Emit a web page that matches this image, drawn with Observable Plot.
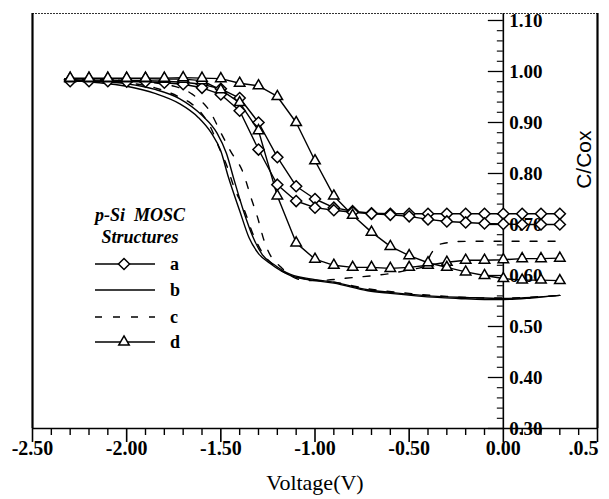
<!DOCTYPE html>
<html><head><meta charset="utf-8">
<script src="https://cdn.jsdelivr.net/npm/d3@7"></script>
<script src="https://cdn.jsdelivr.net/npm/@observablehq/plot@0.6"></script>
<style>
html,body{margin:0;padding:0;background:#fff;}
#wrap{position:relative;width:609px;height:499px;overflow:hidden;}
</style></head><body><div id="wrap"></div>
<script>
// ---- data (Voltage in V, C/Cox) ----
const markerV = [-2.3,-2.2,-2.1,-2.0,-1.9,-1.8,-1.7,-1.6,-1.5,-1.4,-1.3,-1.2,-1.1,-1.0,-0.9,-0.8,-0.7,-0.6,-0.5,-0.4,-0.3,-0.2,-0.1,0.0,0.1,0.2,0.3];
const a1 = [.983,.983,.983,.982,.982,.981,.979,.975,.966,.948,.900,.832,.775,.750,.733,.726,.722,.721,.721,.721,.721,.721,.721,.721,.721,.721,.721];
const a2 = [.981,.981,.981,.980,.980,.978,.975,.968,.955,.923,.847,.778,.746,.733,.728,.724,.721,.719,.716,.710,.706,.704,.702,.701,.700,.700,.700];
const d1 = [.986,.986,.986,.986,.986,.985,.985,.982,.964,.939,.884,.756,.664,.632,.620,.616,.616,.614,.616,.620,.626,.630,.630,.631,.633,.633,.634];
const d2 = [.987,.987,.987,.987,.987,.987,.988,.987,.986,.977,.972,.951,.900,.825,.756,.718,.685,.657,.639,.625,.616,.607,.600,.594,.591,.591,.590];

const b1V = [-2.33,-2.2,-2.0,-1.85,-1.72,-1.62,-1.55,-1.5,-1.46,-1.4,-1.35,-1.3,-1.24,-1.13,-1.0,-0.9,-0.72,-0.6,-0.35,-0.24,-0.1,0.0,0.15,0.3];
const b1C = [.985,.980,.971,.957,.937,.910,.879,.844,.793,.727,.674,.643,.624,.600,.590,.585,.570,.565,.557,.555,.553,.553,.556,.561];
const b2V = [-2.33,-2.2,-2.0,-1.85,-1.72,-1.6,-1.52,-1.47,-1.43,-1.38,-1.33,-1.28,-1.22,-1.13,-1.0,-0.9,-0.72,-0.6,-0.35,-0.2,0.0,0.15,0.3];
const b2C = [.985,.982,.976,.965,.947,.914,.879,.839,.788,.727,.676,.641,.622,.602,.592,.587,.572,.567,.559,.557,.555,.557,.561];
const c1V = [-2.33,-2.0,-1.85,-1.72,-1.66,-1.6,-1.555,-1.51,-1.465,-1.43,-1.38,-1.33,-1.28,-1.22,-1.13,-1.0,-0.9,-0.72,-0.5,-0.3,-0.1,0.0,0.3];
const c1C = [.985,.978,.968,.950,.938,.917,.891,.851,.812,.773,.733,.682,.645,.620,.601,.591,.587,.574,.565,.559,.556,.556,.561];
const c2V = [-2.33,-2.0,-1.8,-1.65,-1.555,-1.5,-1.45,-1.38,-1.34,-1.305,-1.27,-1.25,-1.18,-1.08,-1.0,-0.8,-0.6,-0.5,-0.42,-0.38,-0.33,-0.2,0.0,0.3];
const c2C = [.985,.982,.975,.955,.920,.880,.845,.800,.753,.714,.668,.649,.616,.592,.590,.596,.604,.611,.618,.645,.662,.667,.667,.667];

const xTicks = [-2.5,-2.0,-1.5,-1.0,-0.5,0.0,0.5];
const xTickLabels = ["-2.50","-2.00","-1.50","-1.00","-0.50","0.00",".0.5"];
const xMinor = d3.range(-25, 6).map(k => k / 10).filter(v => !xTicks.some(t => Math.abs(t - v) < 1e-9));
const yTicks = [0.3,0.4,0.5,0.6,0.7,0.8,0.9,1.0,1.1];
const yTickLabels = ["0.30","0.40","0.50","0.60","0.70","0.80","0.90","1.00","1.10"];
const yMinor = d3.range(15, 56).map(k => k / 50).filter(v => !yTicks.some(t => Math.abs(t - v) < 1e-9));
const legendKeys = ["a","b","c","d"];
const legendTitle = ["p-Si  MOSC", "Structures"];
const xLabel = "Voltage(V)";
const yLabel = "C/Cox";

// ---- tables ----
function rowsOf(series, xs, ys) { return xs.map((v, i) => ({series, v, c: ys[i]})); }
const diamonds = [...rowsOf("a1", markerV, a1), ...rowsOf("a2", markerV, a2)];
const triangles = [...rowsOf("d1", markerV, d1), ...rowsOf("d2", markerV, d2)];
const solids = [...rowsOf("b1", b1V, b1C), ...rowsOf("b2", b2V, b2C)];
const dashes = [...rowsOf("c1", c1V, c1C), ...rowsOf("c2", c2V, c2C)];

const W = 609, H = 499, ML = 32, MR = 12, MT = 13, MB = 71;
const xDom = [-2.5, 0.5], yDom = [0.3, 1.1137];
const serif = "'Liberation Serif', 'Times New Roman', serif";
const DASH = "7,11";
const R = 5;

const plot = Plot.plot({
  width: W, height: H,
  marginLeft: ML, marginRight: MR, marginTop: MT, marginBottom: MB,
  x: {domain: xDom, axis: null, label: null},
  y: {domain: yDom, axis: null, label: null},
  style: {fontFamily: serif, background: "white", color: "black", overflow: "visible"},
  marks: [
    // frame
    Plot.ruleY([yDom[1]], {stroke: "#333", strokeWidth: 1.2, strokeDasharray: "2,1"}),
    Plot.ruleY([yDom[0]], {stroke: "black", strokeWidth: 1.6}),
    Plot.ruleX([xDom[0]], {stroke: "black", strokeWidth: 2.2}),
    Plot.ruleX([xDom[1]], {stroke: "black", strokeWidth: 2.2}),
    // x axis ticks
    Plot.axisX(xTicks, {anchor: "bottom", tickSize: 14, tickFormat: () => "", label: null, strokeWidth: 1.6}),
    Plot.axisX(xMinor, {anchor: "bottom", tickSize: 7, tickFormat: () => "", label: null, strokeWidth: 1.4}),
    // y axis at V = 0
    Plot.ruleX([0], {stroke: "black", strokeWidth: 1.6}),
    Plot.ruleY(yTicks, {y: d => d, x1: 0, x2: 0, insetLeft: -15, stroke: "black", strokeWidth: 1.3}),
    Plot.ruleY(yMinor, {y: d => d, x1: 0, x2: 0, insetLeft: -6, stroke: "black", strokeWidth: 1.1}),
    // tick labels
    Plot.text(xTicks.slice(0, -1), {x: d => d, text: (d, i) => xTickLabels[i], frameAnchor: "bottom", dy: 26, fontSize: 20, fontWeight: "bold", fill: "black"}),
    Plot.text(xTicks.slice(-1), {x: d => d, text: () => xTickLabels[xTickLabels.length - 1], frameAnchor: "bottom", dy: 26, dx: 1, textAnchor: "end", fontSize: 20, fontWeight: "bold", fill: "black"}),
    Plot.text(yTicks, {x: 0, y: d => d, text: (d, i) => yTickLabels[i], textAnchor: "start", dx: 6, fontSize: 19, fontWeight: "bold", fill: "black"}),
    // axis titles
    Plot.text([xLabel], {frameAnchor: "bottom", dy: 61, fontSize: 22, fill: "black"}),
    Plot.text([yLabel], {frameAnchor: "top-right", dx: -21, dy: 117, rotate: -90, fontFamily: "'Liberation Sans', Arial, sans-serif", fontSize: 21, fill: "black"}),
    // curves
    Plot.line(solids, {x: "v", y: "c", z: "series", stroke: "black", strokeWidth: 1.4, curve: "monotone-x"}),
    Plot.line(dashes, {x: "v", y: "c", z: "series", stroke: "black", strokeWidth: 1.4, strokeDasharray: DASH, curve: "monotone-x"}),
    Plot.line(diamonds, {x: "v", y: "c", z: "series", stroke: "black", strokeWidth: 1.4}),
    Plot.line(triangles, {x: "v", y: "c", z: "series", stroke: "black", strokeWidth: 1.4}),
    Plot.dot(diamonds, {x: "v", y: "c", symbol: "diamond2", r: R, fill: "white", stroke: "black", strokeWidth: 1.5}),
    Plot.dot(triangles, {x: "v", y: "c", symbol: "triangle2", r: R, fill: "white", stroke: "black", strokeWidth: 1.5})
  ]
});
document.getElementById("wrap").appendChild(plot);

// ---- legend overlay ----
const lg = d3.select("#wrap").append("svg")
  .attr("width", W).attr("height", H)
  .style("position", "absolute").style("left", "0px").style("top", "0px");
lg.selectAll("text.title").data(legendTitle).join("text")
  .attr("x", 140).attr("y", (d, i) => 215 + i * 22).attr("dy", "0.35em")
  .attr("text-anchor", "middle").attr("font-family", serif)
  .attr("font-size", 18).attr("font-style", "italic").attr("font-weight", "bold")
  .style("white-space", "pre").text(d => d);
const ly = [264, 290, 317, 342];
const g = lg.selectAll("g.item").data(legendKeys).join("g").attr("transform", (d, i) => `translate(0,${ly[i]})`);
g.append("line").attr("x1", 95).attr("x2", 155).attr("stroke", "black").attr("stroke-width", 1.4)
  .attr("stroke-dasharray", d => d === "c" ? DASH : null);
g.filter(d => d === "a").append("path").attr("transform", "translate(124,0)")
  .attr("d", d3.symbol(d3.symbolDiamond2, Math.PI * R * R)()).attr("fill", "white").attr("stroke", "black").attr("stroke-width", 1.5);
g.filter(d => d === "d").append("path").attr("transform", "translate(124,0)")
  .attr("d", d3.symbol(d3.symbolTriangle2, Math.PI * R * R)()).attr("fill", "white").attr("stroke", "black").attr("stroke-width", 1.5);
g.append("text").attr("x", 170).attr("dy", "0.35em").attr("font-family", serif)
  .attr("font-size", 18).attr("font-weight", "bold").text(d => d);
</script></body></html>
